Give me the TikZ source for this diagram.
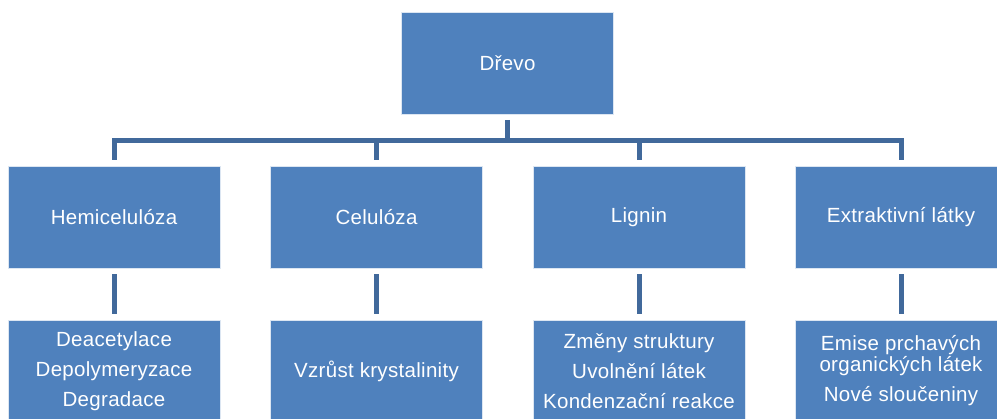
\documentclass[tikz,border=0pt]{standalone}
\usepackage{fontspec}
\setmainfont{Liberation Sans}[LetterSpace=1.5]
\definecolor{boxblue}{HTML}{4F81BD}
\definecolor{linkblue}{HTML}{41699B}
\begin{document}
\begin{tikzpicture}[x=1pt,y=-1pt,
  box/.style={rectangle, fill=boxblue, draw=white!80!boxblue, line width=0.8pt,
    minimum width=212pt, minimum height=102pt, inner sep=0pt,
    text=white, align=center, font=\fontsize{20.5}{30}\selectfont},
  conn/.style={draw=linkblue, line width=5pt}]
\useasboundingbox (0,0) rectangle (997,419);
\clip (0,0) rectangle (997,419);
\node[box] (top) at (507.5,63.5) {Dřevo};
\node[box] (hemi) at (114,217) {Hemicelulóza};
\node[box] (cel) at (376.5,217) {Celulóza};
\node[box] (lig) at (639,217) {Lignin};
\node[box] (ext) at (901,217) {Extraktivní látky};
\node[box] (hemi2) at (114,371) {Deacetylace\\Depolymeryzace\\Degradace};
\node[box] (cel2) at (376.5,371) {Vzrůst krystalinity};
\node[box] (lig2) at (639,371) {Změny struktury\\Uvolnění látek\\Kondenzační reakce};
\node[box] (ext2) at (901,371) {Emise prchavých\\[-9pt]organických látek\\Nové sloučeniny};
\coordinate (bar) at (0,140.5);
\draw[conn] ([yshift=-5pt]top.south) -- (top.south |- bar);
\draw[conn, line cap=rect] (hemi.north |- bar) -- (ext.north |- bar);
\foreach \n in {hemi,cel,lig,ext}{
  \draw[conn] (\n.north |- bar) -- ([yshift=6pt]\n.north);
  \draw[conn] ([yshift=-6pt]\n.south) -- ([yshift=6pt]\n2.north);
}
\end{tikzpicture}
\end{document}
